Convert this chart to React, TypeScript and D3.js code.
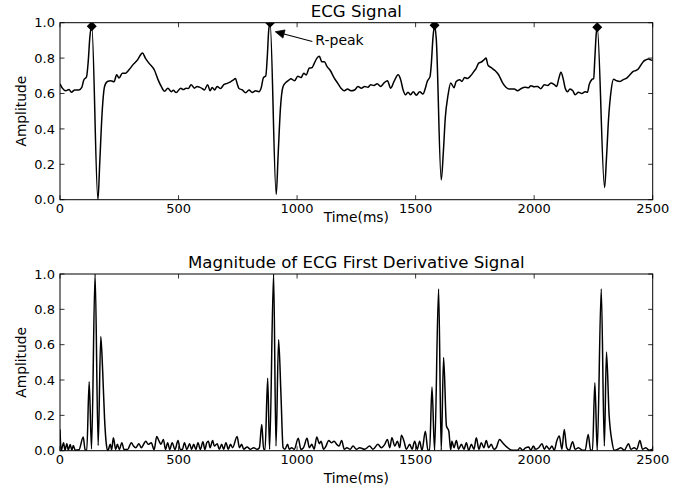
import React from 'react';
import * as d3 from 'd3';

type Pt = [number, number];

const ecgSignal: Pt[] = [
  [0,0.655],[10,0.63],[24,0.615],[38,0.623],[48,0.607],[62,0.62],[80,0.62],[92,0.634],[100,0.675],[112,0.695],
  [119,0.78],[126,0.92],[134,0.98],[160,0.0],[168,0.22],[178,0.5],[188,0.64],[200,0.668],[214,0.672],[228,0.666],
  [239,0.706],[249,0.687],[263,0.715],[277,0.715],[291,0.734],[310,0.766],[327,0.79],[341,0.82],[348,0.829],[360,0.8],
  [376,0.77],[399,0.73],[413,0.68],[427,0.64],[441,0.613],[455,0.63],[469,0.61],[478,0.618],[490,0.605],[509,0.63],
  [520,0.622],[532,0.63],[541,0.628],[553,0.65],[567,0.63],[578,0.64],[588,0.636],[600,0.628],[609,0.62],[623,0.65],
  [633,0.615],[642,0.634],[652,0.62],[663,0.64],[677,0.628],[691,0.65],[705,0.657],[719,0.666],[730,0.675],[740,0.685],
  [747,0.657],[755,0.628],[769,0.62],[783,0.604],[797,0.62],[811,0.606],[825,0.615],[839,0.61],[849,0.634],[858,0.69],
  [868,0.70],[874,0.80],[880,0.95],[886,1.0],[912,0.03],[920,0.25],[930,0.52],[940,0.635],[951,0.66],[965,0.675],
  [974,0.683],[989,0.672],[1003,0.697],[1017,0.69],[1028,0.715],[1038,0.705],[1052,0.744],[1062,0.745],[1073,0.772],[1084,0.80],
  [1094,0.81],[1104,0.78],[1115,0.78],[1126,0.753],[1140,0.73],[1157,0.687],[1171,0.659],[1185,0.63],[1199,0.615],[1213,0.626],
  [1227,0.615],[1243,0.62],[1257,0.64],[1271,0.63],[1285,0.64],[1299,0.635],[1310,0.65],[1324,0.645],[1338,0.655],[1352,0.64],
  [1367,0.66],[1381,0.672],[1395,0.63],[1409,0.668],[1426,0.706],[1437,0.678],[1447,0.621],[1457,0.593],[1468,0.607],[1479,0.593],
  [1490,0.61],[1503,0.59],[1517,0.61],[1531,0.597],[1541,0.63],[1549,0.668],[1561,0.697],[1566,0.762],[1573,0.913],[1580,0.985],
  [1587,0.91],[1608,0.112],[1617,0.27],[1625,0.46],[1637,0.593],[1648,0.66],[1662,0.633],[1671,0.668],[1686,0.678],[1695,0.668],
  [1707,0.69],[1718,0.685],[1732,0.70],[1746,0.725],[1756,0.744],[1766,0.772],[1777,0.778],[1788,0.79],[1797,0.80],[1805,0.76],
  [1819,0.746],[1836,0.728],[1850,0.706],[1867,0.66],[1881,0.635],[1895,0.625],[1916,0.625],[1930,0.615],[1944,0.627],[1962,0.635],
  [1976,0.632],[1986,0.644],[2000,0.638],[2014,0.64],[2028,0.627],[2043,0.65],[2057,0.645],[2071,0.66],[2085,0.65],[2095,0.64],
  [2103,0.68],[2113,0.72],[2123,0.68],[2131,0.63],[2141,0.61],[2151,0.626],[2163,0.615],[2173,0.593],[2187,0.607],[2201,0.6],
  [2215,0.61],[2225,0.607],[2232,0.65],[2244,0.68],[2251,0.685],[2256,0.80],[2262,0.94],[2266,0.975],[2297,0.069],[2305,0.235],
  [2314,0.46],[2324,0.61],[2335,0.68],[2348,0.672],[2362,0.668],[2376,0.678],[2390,0.687],[2404,0.706],[2418,0.725],[2429,0.73],
  [2440,0.74],[2450,0.76],[2460,0.78],[2471,0.79],[2482,0.795],[2492,0.79],[2500,0.787],
];

const derivSignal: Pt[] = [
  [0,0.12],[5,0.0],[15,0.045],[21,0.003],[29,0.04],[35,0.003],[43,0.035],[50,0.003],[56,0.03],[64,0.003],
  [80,0.005],[98,0.077],[106,0.005],[113,0.003],[123,0.39],[133,0.01],[148,1.0],[161,0.03],[172,0.647],[180,0.45],
  [188,0.18],[196,0.03],[202,0.0],[212,0.036],[218,0.005],[225,0.073],[235,0.007],[242,0.036],[250,0.007],[261,0.045],
  [270,0.007],[285,0.007],[301,0.045],[310,0.026],[320,0.017],[333,0.04],[343,0.017],[362,0.054],[372,0.036],[385,0.045],
  [397,0.005],[408,0.08],[418,0.054],[426,0.036],[436,0.064],[445,0.007],[454,0.045],[463,0.007],[473,0.045],[485,0.007],
  [498,0.058],[507,0.007],[516,0.007],[525,0.045],[535,0.007],[547,0.04],[555,0.007],[564,0.036],[573,0.007],[582,0.045],
  [592,0.007],[603,0.051],[611,0.007],[619,0.045],[626,0.054],[633,0.017],[644,0.058],[651,0.026],[663,0.04],[672,0.008],
  [682,0.036],[690,0.008],[700,0.045],[710,0.008],[719,0.036],[728,0.017],[747,0.08],[757,0.017],[766,0.036],[775,0.008],
  [789,0.021],[803,0.008],[817,0.017],[831,0.008],[841,0.017],[851,0.148],[859,0.008],[865,0.008],[876,0.41],[884,0.008],
  [901,1.0],[911,0.026],[922,0.628],[932,0.318],[941,0.017],[949,0.008],[960,0.036],[967,0.008],[977,0.017],[988,0.008],
  [1005,0.07],[1016,0.008],[1027,0.017],[1042,0.07],[1052,0.017],[1062,0.036],[1072,0.008],[1083,0.077],[1094,0.04],[1101,0.054],
  [1112,0.008],[1122,0.026],[1133,0.058],[1145,0.045],[1156,0.054],[1167,0.036],[1177,0.026],[1188,0.058],[1199,0.008],[1210,0.017],
  [1224,0.008],[1236,0.026],[1250,0.008],[1264,0.017],[1285,0.008],[1306,0.026],[1320,0.008],[1341,0.036],[1355,0.017],[1370,0.036],
  [1381,0.064],[1391,0.017],[1400,0.073],[1412,0.026],[1423,0.054],[1433,0.017],[1440,0.088],[1451,0.054],[1461,0.008],[1475,0.036],
  [1485,0.008],[1496,0.054],[1507,0.008],[1517,0.054],[1527,0.002],[1541,0.11],[1552,0.002],[1559,0.002],[1569,0.36],[1580,0.002],
  [1597,0.915],[1608,0.002],[1618,0.528],[1630,0.14],[1640,0.11],[1648,0.005],[1653,0.054],[1662,0.017],[1672,0.058],[1681,0.008],
  [1693,0.036],[1704,0.008],[1714,0.045],[1724,0.002],[1735,0.036],[1746,0.008],[1756,0.073],[1767,0.008],[1777,0.045],[1788,0.017],
  [1798,0.058],[1808,0.017],[1819,0.036],[1830,0.008],[1840,0.017],[1854,0.064],[1867,0.045],[1888,0.017],[1909,0.002],[1930,0.002],
  [1940,0.017],[1951,0.002],[1962,0.014],[1977,0.021],[1986,0.002],[1996,0.026],[2007,0.008],[2019,0.017],[2033,0.04],[2043,0.008],
  [2052,0.026],[2064,0.008],[2075,0.026],[2085,0.002],[2095,0.054],[2106,0.083],[2117,0.008],[2127,0.12],[2137,0.017],[2148,0.002],
  [2162,0.051],[2173,0.008],[2187,0.017],[2204,0.002],[2215,0.002],[2228,0.092],[2238,0.002],[2246,0.002],[2256,0.384],[2266,0.002],
  [2283,0.915],[2296,0.026],[2305,0.558],[2316,0.205],[2328,0.054],[2338,0.002],[2352,0.008],[2366,0.017],[2380,0.002],[2398,0.04],
  [2408,0.008],[2422,0.017],[2433,0.008],[2446,0.058],[2457,0.008],[2471,0.017],[2485,0.002],[2500,0.008],
];

const rPeaks: Pt[] = [[134, 0.98], [886, 1.0], [1580, 0.985], [2266, 0.975]];
const xTicks = [0, 500, 1000, 1500, 2000, 2500];
const yTicks = [0, 0.2, 0.4, 0.6, 0.8, 1.0];
const panelTitles = ['ECG Signal', 'Magnitude of ECG First Derivative Signal'];
const xLabel = 'Time(ms)';
const yLabel = 'Amplitude';
const annotationText = 'R-peak';
const annotationTip: Pt = [908, 0.949];
const annotationTextPos: Pt = [1077, 0.874];

const W = 697;
const H = 495;
const FONT = 'DejaVu Sans, sans-serif';
const LEFT = 60;
const RIGHT = 652.7;

interface PanelProps {
  id: string;
  top: number;
  bottom: number;
  title: string;
  data: Pt[];
  xLabelY: number;
  markers?: Pt[];
  annotate?: boolean;
}

function Panel({ id, top, bottom, title, data, xLabelY, markers, annotate }: PanelProps) {
  const x = d3.scaleLinear().domain([0, 2500]).range([LEFT, RIGHT]);
  const y = d3.scaleLinear().domain([0, 1]).range([bottom, top]);
  const line = d3.line<Pt>().x(d => x(d[0])).y(d => y(d[1])).curve(d3.curveMonotoneX);
  const tick = 4.5;
  const midX = (LEFT + RIGHT) / 2;

  let arrow: React.ReactNode = null;
  if (annotate) {
    const tipX = x(annotationTip[0]);
    const tipY = y(annotationTip[1]);
    const tx = x(annotationTextPos[0]);
    const ty = y(annotationTextPos[1]);
    const tailX = tx - 3;
    const tailY = ty - 3.5;
    const ang = Math.atan2(tailY - tipY, tailX - tipX);
    const hl = 9, hw = 4.2;
    const bx = tipX + Math.cos(ang) * hl;
    const by = tipY + Math.sin(ang) * hl;
    const px = -Math.sin(ang) * hw;
    const py = Math.cos(ang) * hw;
    arrow = (
      <g>
        <line x1={tailX} y1={tailY} x2={bx} y2={by} stroke="#000" strokeWidth={1.1} />
        <polygon points={`${tipX},${tipY} ${bx + px},${by + py} ${bx - px},${by - py}`} fill="#000" stroke="#000" strokeWidth={0.8} />
        <text x={tx} y={ty} fontSize={14} fontFamily={FONT} fill="#000">{annotationText}</text>
      </g>
    );
  }

  return (
    <g>
      <defs>
        <clipPath id={id}>
          <rect x={LEFT} y={top} width={RIGHT - LEFT} height={bottom - top} />
        </clipPath>
      </defs>
      <rect x={LEFT} y={top} width={RIGHT - LEFT} height={bottom - top} fill="#fff" />
      <g clipPath={`url(#${id})`}>
        <path d={line(data) || ''} fill="none" stroke="#000" strokeWidth={1.5} strokeLinejoin="round" />
        {markers && markers.map((m, i) => (
          <path key={i} transform={`translate(${x(m[0])},${y(m[1])})`} d="M0,-5L5,0L0,5L-5,0Z" fill="#000" />
        ))}
      </g>
      {xTicks.map(t => (
        <g key={'x' + t}>
          <line x1={x(t)} x2={x(t)} y1={bottom} y2={bottom - tick} stroke="#000" strokeWidth={0.8} />
          <line x1={x(t)} x2={x(t)} y1={top} y2={top + tick} stroke="#000" strokeWidth={0.8} />
          <text x={x(t)} y={bottom + 13.5} textAnchor="middle" fontSize={13} fontFamily={FONT} fill="#000">{t}</text>
        </g>
      ))}
      {yTicks.map(t => (
        <g key={'y' + t}>
          <line x1={LEFT} x2={LEFT + tick} y1={y(t)} y2={y(t)} stroke="#000" strokeWidth={0.8} />
          <line x1={RIGHT} x2={RIGHT - tick} y1={y(t)} y2={y(t)} stroke="#000" strokeWidth={0.8} />
          <text x={LEFT - 5} y={y(t)} dy="0.36em" textAnchor="end" fontSize={13} fontFamily={FONT} fill="#000">{t.toFixed(1)}</text>
        </g>
      ))}
      <rect x={LEFT} y={top} width={RIGHT - LEFT} height={bottom - top} fill="none" stroke="#000" strokeWidth={1} />
      {arrow}
      <text x={midX} y={top - 6} textAnchor="middle" fontSize={16.6} fontFamily={FONT} fill="#000">{title}</text>
      <text x={midX} y={xLabelY} textAnchor="middle" fontSize={13.8} fontFamily={FONT} fill="#000">{xLabel}</text>
      <text transform={`translate(25.5,${(top + bottom) / 2}) rotate(-90)`} textAnchor="middle" fontSize={13.8} fontFamily={FONT} fill="#000">{yLabel}</text>
    </g>
  );
}

export default function App() {
  return (
    <svg width={W} height={H} viewBox={`0 0 ${W} ${H}`} style={{ position: 'absolute', left: 0, top: 0, background: '#fff' }}>
      <rect x={0} y={0} width={W} height={H} fill="#fff" />
      <Panel id="clipTop" top={22.7} bottom={199.7} title={panelTitles[0]} data={ecgSignal} xLabelY={222} markers={rPeaks} annotate />
      <Panel id="clipBottom" top={274} bottom={450.7} title={panelTitles[1]} data={derivSignal} xLabelY={483} />
    </svg>
  );
}
